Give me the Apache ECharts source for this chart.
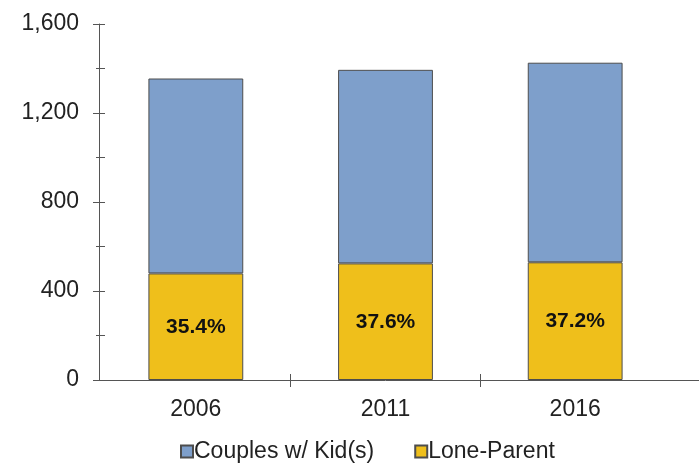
<!DOCTYPE html>
<html>
<head>
<meta charset="utf-8">
<script src="https://cdn.jsdelivr.net/npm/echarts@6/dist/echarts.min.js"></script>
<style>
  html, body { margin: 0; padding: 0; background: #ffffff; }
  #chart { width: 699px; height: 463px; }
</style>
</head>
<body>
<div id="chart"></div>
<script>
// Census years
const years = ['2006', '2011', '2016'];
// Families with children, by type
const couplesWithKids = [876, 870, 897];
const loneParent = [479, 524, 529];
// Lone-parent share of families with children (%)
const loneParentShare = ['35.4%', '37.6%', '37.2%'];
// Value axis
const yMin = 0;
const yMax = 1600;
const yStep = 400;

const FONT = '"Liberation Sans", Arial, sans-serif';
const AXIS = '#555555';
const TEXT = '#222222';

const chart = echarts.init(document.getElementById('chart'), null, { renderer: 'canvas' });

const option = {
  backgroundColor: '#ffffff',
  animation: false,
  textStyle: { fontFamily: FONT },
  grid: { left: 101, right: 29, top: 24, bottom: 83, containLabel: false },
  legend: {
    left: 180,
    top: 440,
    padding: 0,
    icon: 'rect',
    itemWidth: 12,
    itemHeight: 12,
    itemGap: 40,
    textStyle: { fontFamily: FONT, fontSize: 23, color: TEXT, padding: [0, 0, 0, -4] },
    data: ['Couples w/ Kid(s)', 'Lone-Parent']
  },
  xAxis: [
    {
      type: 'category',
      data: years,
      axisLine: { show: false },
      axisTick: { show: false },
      axisLabel: { fontFamily: FONT, fontSize: 23, color: TEXT, margin: 18 }
    },
    {
      // boundary ticks between the years, drawn below the axis line
      type: 'value', min: 0, max: years.length, position: 'bottom',
      axisLine: { show: true, lineStyle: { color: AXIS, width: 1 } },
      axisTick: { show: true, length: 7, customValues: [1, 2], lineStyle: { color: AXIS } },
      axisLabel: { show: false },
      splitLine: { show: false }
    },
    {
      // the same ticks continued above the axis line
      type: 'value', min: 0, max: years.length, position: 'bottom',
      axisLine: { show: false },
      axisTick: { show: true, inside: true, length: 6, customValues: [1, 2], lineStyle: { color: AXIS } },
      axisLabel: { show: false },
      splitLine: { show: false }
    }
  ],
  yAxis: [
    {
      // labels and ticks; shifted right so the ticks straddle the axis line
      type: 'value', min: yMin, max: yMax, interval: yStep, position: 'left',
      offset: -4,
      axisLine: { show: false, onZero: false },
      axisTick: { show: true, length: 12, lineStyle: { color: AXIS } },
      minorTick: { show: true, splitNumber: 2, length: 9, lineStyle: { color: AXIS } },
      axisLabel: {
        fontFamily: FONT, fontSize: 23, color: TEXT, margin: 26,
        formatter: v => v.toLocaleString('en-US')
      },
      splitLine: { show: false }
    },
    {
      // the axis line itself
      type: 'value', min: yMin, max: yMax, interval: yStep, position: 'left',
      offset: 2,
      axisLine: { show: true, onZero: false, lineStyle: { color: AXIS, width: 1 } },
      axisTick: { show: false },
      axisLabel: { show: false },
      splitLine: { show: false }
    }
  ],
  series: [
    {
      name: 'Lone-Parent',
      type: 'bar',
      stack: 'families',
      xAxisIndex: 0,
      yAxisIndex: 0,
      barWidth: '50%',
      data: loneParent,
      itemStyle: { color: '#efbf1b', borderColor: '#4d4d4d', borderWidth: 1 },
      label: {
        show: true,
        position: 'inside',
        formatter: p => loneParentShare[p.dataIndex],
        fontFamily: FONT, fontSize: 21, fontWeight: 'bold', color: '#111111'
      }
    },
    {
      name: 'Couples w/ Kid(s)',
      type: 'bar',
      stack: 'families',
      xAxisIndex: 0,
      yAxisIndex: 0,
      barWidth: '50%',
      data: couplesWithKids,
      itemStyle: { color: '#7e9fcb', borderColor: '#4d4d4d', borderWidth: 1 }
    }
  ]
};

chart.setOption(option);

// carry the baseline out to both ends: back to the y axis line and on to the right edge
const baseY = Math.round(chart.convertToPixel({ yAxisIndex: 0 }, 0)) + 0.5;
const startX = chart.convertToPixel({ xAxisIndex: 1 }, 0);
const endX = chart.convertToPixel({ xAxisIndex: 1 }, years.length);
chart.setOption({
  graphic: [
    {
      type: 'line',
      shape: { x1: startX - 2, y1: baseY, x2: startX, y2: baseY },
      style: { stroke: AXIS, lineWidth: 1 },
      silent: true
    },
    {
      type: 'line',
      shape: { x1: endX, y1: baseY, x2: 699, y2: baseY },
      style: { stroke: AXIS, lineWidth: 1 },
      silent: true
    }
  ]
});
</script>
</body>
</html>
